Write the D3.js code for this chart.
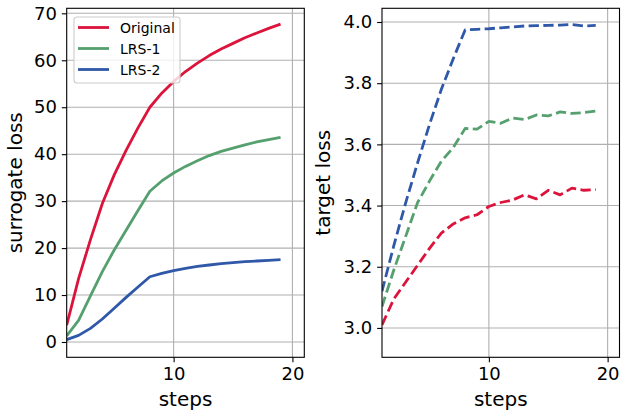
<!DOCTYPE html>
<html>
<head>
<meta charset="utf-8">
<script src="https://cdn.jsdelivr.net/npm/d3@7"></script>
<style>
  html, body { margin: 0; padding: 0; background: #fff; }
  svg { display: block; font-family: "DejaVu Sans", sans-serif; }
</style>
</head>
<body>
<svg id="chart" width="621" height="415"></svg>
<script>
// ---- data ----
const steps = [1,2,3,4,5,6,7,8,9,10,11,12,13,14,15,16,17,18,19];
const seriesNames = ["Original", "LRS-1", "LRS-2"];
const seriesColors = ["#DC143C", "#55A06E", "#2F58A8"];

const surrogateOriginal = [3.6, 13.5, 21.8, 29.5, 35.6, 40.8, 45.6, 50.0, 53.0, 55.5, 57.6, 59.4, 61.0, 62.4, 63.6, 64.8, 65.8, 66.8, 67.7];
const surrogateLRS1     = [1.3, 4.6, 9.8, 15.0, 19.6, 23.8, 28.0, 32.1, 34.3, 36.0, 37.4, 38.6, 39.7, 40.6, 41.3, 42.0, 42.6, 43.1, 43.6];
const surrogateLRS2     = [0.5, 1.4, 2.9, 4.9, 7.2, 9.5, 11.7, 13.9, 14.6, 15.2, 15.7, 16.1, 16.4, 16.7, 16.9, 17.1, 17.25, 17.4, 17.55];

const targetOriginal = [3.01, 3.095, 3.15, 3.205, 3.26, 3.31, 3.34, 3.36, 3.37, 3.397, 3.41, 3.418, 3.435, 3.422, 3.45, 3.435, 3.457, 3.45, 3.452];
const targetLRS1     = [3.07, 3.19, 3.30, 3.41, 3.48, 3.545, 3.59, 3.652, 3.65, 3.675, 3.669, 3.686, 3.681, 3.696, 3.693, 3.706, 3.701, 3.704, 3.709];
const targetLRS2     = [3.12, 3.27, 3.41, 3.54, 3.665, 3.78, 3.88, 3.974, 3.976, 3.978, 3.981, 3.984, 3.987, 3.988, 3.989, 3.990, 3.992, 3.987, 3.989];

const xTicks = [10, 20];
const surrogateTicks = [0, 10, 20, 30, 40, 50, 60, 70];
const targetTicks = [3.0, 3.2, 3.4, 3.6, 3.8, 4.0];

const xLabel = "steps";
const leftYLabel = "surrogate loss";
const rightYLabel = "target loss";

// ---- drawing ----
const svg = d3.select("#chart");
const plotTop = 8.3, plotBottom = 357.3;
const tickLen = 4.9, tickPad = 4.9;
const gridColor = "#b0b0b0";

function panel(opts) {
  const x = d3.scaleLinear().domain([1, 21]).range([opts.x0, opts.x1]);
  const y = d3.scaleLinear().domain(opts.yDomain).range([plotBottom, plotTop]);
  const g = svg.append("g");

  // grid
  g.append("g").selectAll("line").data(xTicks).join("line")
    .attr("x1", d => x(d)).attr("x2", d => x(d))
    .attr("y1", plotTop).attr("y2", plotBottom)
    .attr("stroke", gridColor).attr("stroke-width", 1.1);
  g.append("g").selectAll("line").data(opts.yTicks).join("line")
    .attr("x1", opts.x0).attr("x2", opts.x1)
    .attr("y1", d => y(d)).attr("y2", d => y(d))
    .attr("stroke", gridColor).attr("stroke-width", 1.1);

  // lines
  const clipId = "clip" + opts.id;
  svg.append("clipPath").attr("id", clipId).append("rect")
    .attr("x", opts.x0).attr("y", plotTop).attr("width", opts.x1 - opts.x0).attr("height", plotBottom - plotTop);
  const line = d3.line().x((d, i) => x(steps[i])).y(d => y(d));
  const lg = g.append("g").attr("clip-path", `url(#${clipId})`);
  opts.series.forEach((s, k) => {
    lg.append("path").datum(s)
      .attr("d", line)
      .attr("fill", "none")
      .attr("stroke", seriesColors[k])
      .attr("stroke-width", 2.8)
      .attr("stroke-linejoin", "round")
      .attr("stroke-dasharray", opts.dashed ? "10.3,4.4" : null);
  });

  // axes
  const ax = g.append("g").attr("transform", `translate(0,${plotBottom})`)
    .call(d3.axisBottom(x).tickValues(xTicks).tickSize(tickLen).tickPadding(tickPad).tickSizeOuter(0));
  const ay = g.append("g").attr("transform", `translate(${opts.x0},0)`)
    .call(d3.axisLeft(y).tickValues(opts.yTicks).tickFormat(opts.fmt).tickSize(tickLen).tickPadding(tickPad).tickSizeOuter(0));
  [ax, ay].forEach(a => {
    a.select(".domain").remove();
    a.selectAll(".tick line").attr("stroke", "#000").attr("stroke-width", 1.1);
    a.selectAll(".tick text").attr("fill", "#000").style("font-size", "18px").style("font-family", "DejaVu Sans");
  });

  // spines
  g.append("rect").attr("x", opts.x0).attr("y", plotTop)
    .attr("width", opts.x1 - opts.x0).attr("height", plotBottom - plotTop)
    .attr("fill", "none").attr("stroke", "#000").attr("stroke-width", 1.1);

  // labels
  g.append("text").attr("x", (opts.x0 + opts.x1) / 2).attr("y", 406)
    .attr("text-anchor", "middle").style("font-size", "20px").text(xLabel);
  g.append("text")
    .attr("transform", `translate(${opts.labelX},${(plotTop + plotBottom) / 2}) rotate(-90)`)
    .attr("text-anchor", "middle").style("font-size", "20px").text(opts.yLabel);

  return { x, y, g };
}

panel({
  id: "L", x0: 66.7, x1: 304.3, yDomain: [-3.26, 71.07],
  yTicks: surrogateTicks, fmt: d3.format("d"),
  series: [surrogateOriginal, surrogateLRS1, surrogateLRS2],
  dashed: false, labelX: 22, yLabel: leftYLabel
});
panel({
  id: "R", x0: 382, x1: 619.5, yDomain: [2.904, 4.0448],
  yTicks: targetTicks, fmt: d3.format(".1f"),
  series: [targetOriginal, targetLRS1, targetLRS2],
  dashed: true, labelX: 330, yLabel: rightYLabel
});

// legend
const leg = svg.append("g");
leg.append("rect").attr("x", 74).attr("y", 17).attr("width", 106).attr("height", 66)
  .attr("rx", 3).attr("fill", "#fff").attr("fill-opacity", 0.8)
  .attr("stroke", "#cccccc").attr("stroke-width", 1.1);
seriesNames.forEach((n, i) => {
  const cy = 27.5 + i * 21;
  leg.append("line").attr("x1", 78).attr("x2", 109).attr("y1", cy).attr("y2", cy)
    .attr("stroke", seriesColors[i]).attr("stroke-width", 2.8);
  leg.append("text").attr("x", 120).attr("y", cy).attr("dy", "0.36em")
    .style("font-size", "14px").text(n);
});
</script>
</body>
</html>
